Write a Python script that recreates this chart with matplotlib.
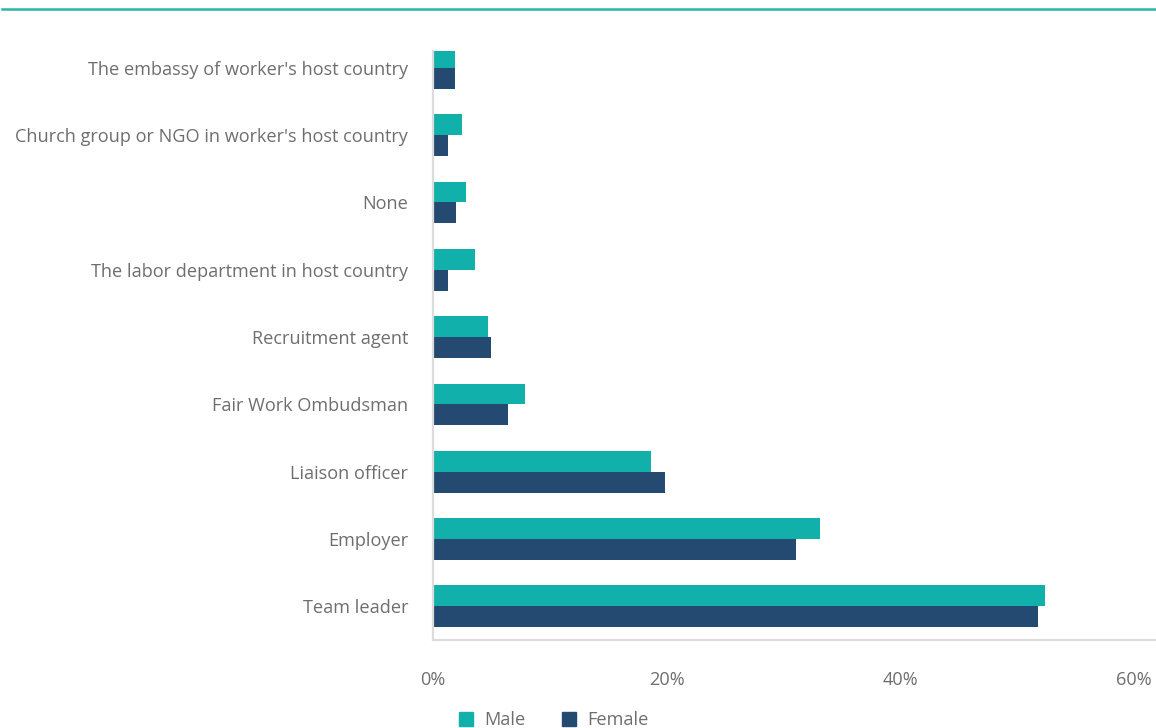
import matplotlib.pyplot as plt
import numpy as np
from matplotlib.lines import Line2D
from matplotlib.patches import Patch

plt.rcParams["font.family"] = ["Open Sans", "DejaVu Sans"]

categories = ["Team leader", "Employer", "Liaison officer", "Fair Work Ombudsman",
              "Recruitment agent", "The labor department in host country", "None",
              "Church group or NGO in worker's host country",
              "The embassy of worker's host country"]
male = [52.4, 33.1, 18.7, 7.9, 4.7, 3.6, 2.8, 2.5, 1.9]
female = [51.8, 31.1, 19.9, 6.4, 5.0, 1.3, 2.0, 1.3, 1.9]

teal = "#12b0aa"
navy = "#254a72"
grey_text = "#6e6e6e"
axis_grey = "#dcdcdc"

fig = plt.figure(figsize=(11.56, 7.28), dpi=100)
ax = fig.add_axes([0.3746, 0.1209, 0.6254, 0.8091])

y = np.arange(len(categories))
h = 0.31
ax.barh(y + h / 2, male, height=h, color=teal, label="Male")
ax.barh(y - h / 2, female, height=h, color=navy, label="Female")

ax.set_ylim(-0.5, 8.25)
ax.set_xlim(0, 61.9)
ax.set_yticks(y)
ax.set_yticklabels(categories)
ax.set_xticks([0, 20, 40, 60])
ax.set_xticklabels(["0%", "20%", "40%", "60%"])
ax.tick_params(axis="both", length=0, colors=grey_text, labelsize=13.1)
ax.tick_params(axis="y", pad=18)
ax.tick_params(axis="x", pad=22)

for side in ["top", "right"]:
    ax.spines[side].set_visible(False)
for side in ["left", "bottom"]:
    ax.spines[side].set_color(axis_grey)
    ax.spines[side].set_linewidth(1.6)

# thin teal rule across the top
fig.add_artist(Line2D([0.002, 1.0], [0.9875, 0.9875], color="#2ab5a8",
                      linewidth=1.8, transform=fig.transFigure))

handles = [Patch(color=teal, label="Male"), Patch(color=navy, label="Female")]
fig.legend(handles=handles, loc="center", bbox_to_anchor=(0.479, 0.011),
           ncol=2, frameon=False, fontsize=13.1, labelcolor=grey_text,
           handlelength=0.8, handleheight=0.8, handletextpad=0.6,
           columnspacing=2.0)

fig.savefig("out.png", dpi=100)
